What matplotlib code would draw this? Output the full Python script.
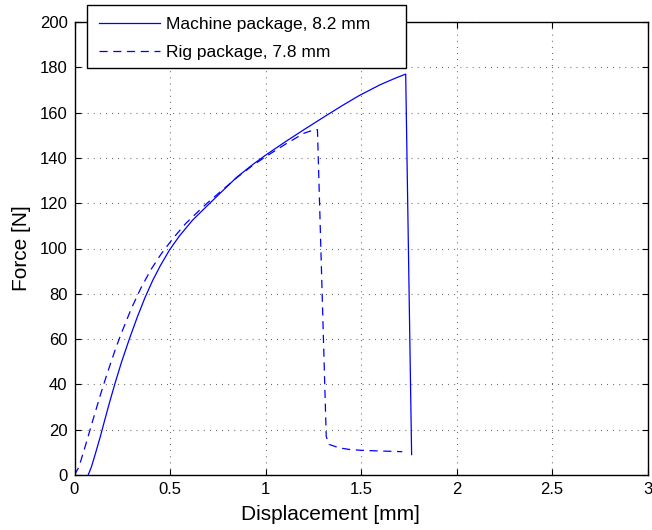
import matplotlib
matplotlib.use("Agg")
import matplotlib.pyplot as plt
from matplotlib.patches import Rectangle

plt.rcParams['font.family'] = ['Liberation Sans', 'DejaVu Sans']

machine_x = [0.0715, 0.089, 0.110, 0.136, 0.159, 0.185, 0.214, 0.246, 0.289, 0.33, 0.37, 0.41, 0.45,
             0.497, 0.549, 0.618, 0.706, 0.76, 0.85, 0.932, 1.002, 1.107, 1.202, 1.316, 1.40, 1.49, 1.60,
             1.68, 1.734, 1.765]
machine_y = [0.0, 3.7, 9.6, 17.2, 24.5, 32.5, 41.0, 49.8, 60.5, 70.0, 78.5, 86.0, 92.5,
             99.3, 105.5, 112.5, 119.8, 124.2, 131.5, 137.0, 141.3, 147.3, 152.5, 158.6, 163.0, 167.5, 172.3,
             175.2, 177.0, 9.0]

rig_x = [0.0, 0.023, 0.058, 0.092, 0.136, 0.171, 0.214, 0.244, 0.296, 0.348, 0.401, 0.453, 0.514, 0.584,
         0.662, 0.697, 0.76, 0.85, 0.93, 1.0, 1.107, 1.202, 1.24, 1.272, 1.318, 1.333, 1.385, 1.437, 1.5,
         1.6, 1.716]
rig_y = [0.0, 3.5, 13.2, 23.0, 35.5, 44.8, 55.5, 62.3, 73.2, 82.6, 90.8, 97.5, 104.3, 111.2,
         117.5, 120.2, 124.8, 131.3, 136.5, 140.5, 146.2, 150.9, 152.0, 152.5, 17.0, 13.5, 12.0, 11.3, 10.9,
         10.6, 10.3]

series_labels = ['Machine package, 8.2 mm', 'Rig package, 7.8 mm']
x_ticks = [0, 0.5, 1, 1.5, 2, 2.5, 3]
x_tick_labels = ['0', '0.5', '1', '1.5', '2', '2.5', '3']
y_ticks = [0, 20, 40, 60, 80, 100, 120, 140, 160, 180, 200]

W, H = 652, 530
fig = plt.figure(figsize=(W / 100, H / 100), dpi=100)
ax = fig.add_axes([74.5 / W, 1 - 475 / H, (647.5 - 74.5) / W, (475 - 22) / H])

ax.plot(machine_x, machine_y, color='#0000ff', lw=0.9, label=series_labels[0])
l2, = ax.plot(rig_x, rig_y, color='#0000ff', lw=0.9, label=series_labels[1])
l2.set_dashes([6.5, 4.5])

ax.set_xlim(0, 3)
ax.set_ylim(0, 200)
ax.set_xticks(x_ticks)
ax.set_xticklabels(x_tick_labels)
ax.set_yticks(y_ticks)
ax.tick_params(direction='in', length=4, width=0.8, top=True, right=True, labelsize=12, pad=5)
ax.grid(True, color='0.25', linestyle=(0, (0.7, 4.8)), linewidth=0.8)
for s in ax.spines.values():
    s.set_linewidth(1.0)

ax.set_xlabel('Displacement [mm]', fontsize=15, labelpad=0)
ax.xaxis.set_label_coords((330 - 74.5) / (647.5 - 74.5), -0.066, transform=ax.transAxes)
ax.set_ylabel('Force [N]', fontsize=15, labelpad=6)

# legend frame (MATLAB-style wide box)
fig.patches.append(Rectangle((87 / W, 1 - 68 / H), (406 - 87) / W, (68 - 5) / H,
                             transform=fig.transFigure, facecolor='white', edgecolor='black',
                             linewidth=1.0, zorder=5))
leg = ax.legend(loc='upper left', bbox_to_anchor=(87 / W, 1 - 5 / H), bbox_transform=fig.transFigure,
                frameon=False, fontsize=12.5, borderpad=0.68,
                handlelength=3.5, handletextpad=0.35, labelspacing=0.75, borderaxespad=0)
leg.set_zorder(6)
fig.legends.append(leg)
ax.get_legend().remove()

fig.savefig('out.png', dpi=100)
